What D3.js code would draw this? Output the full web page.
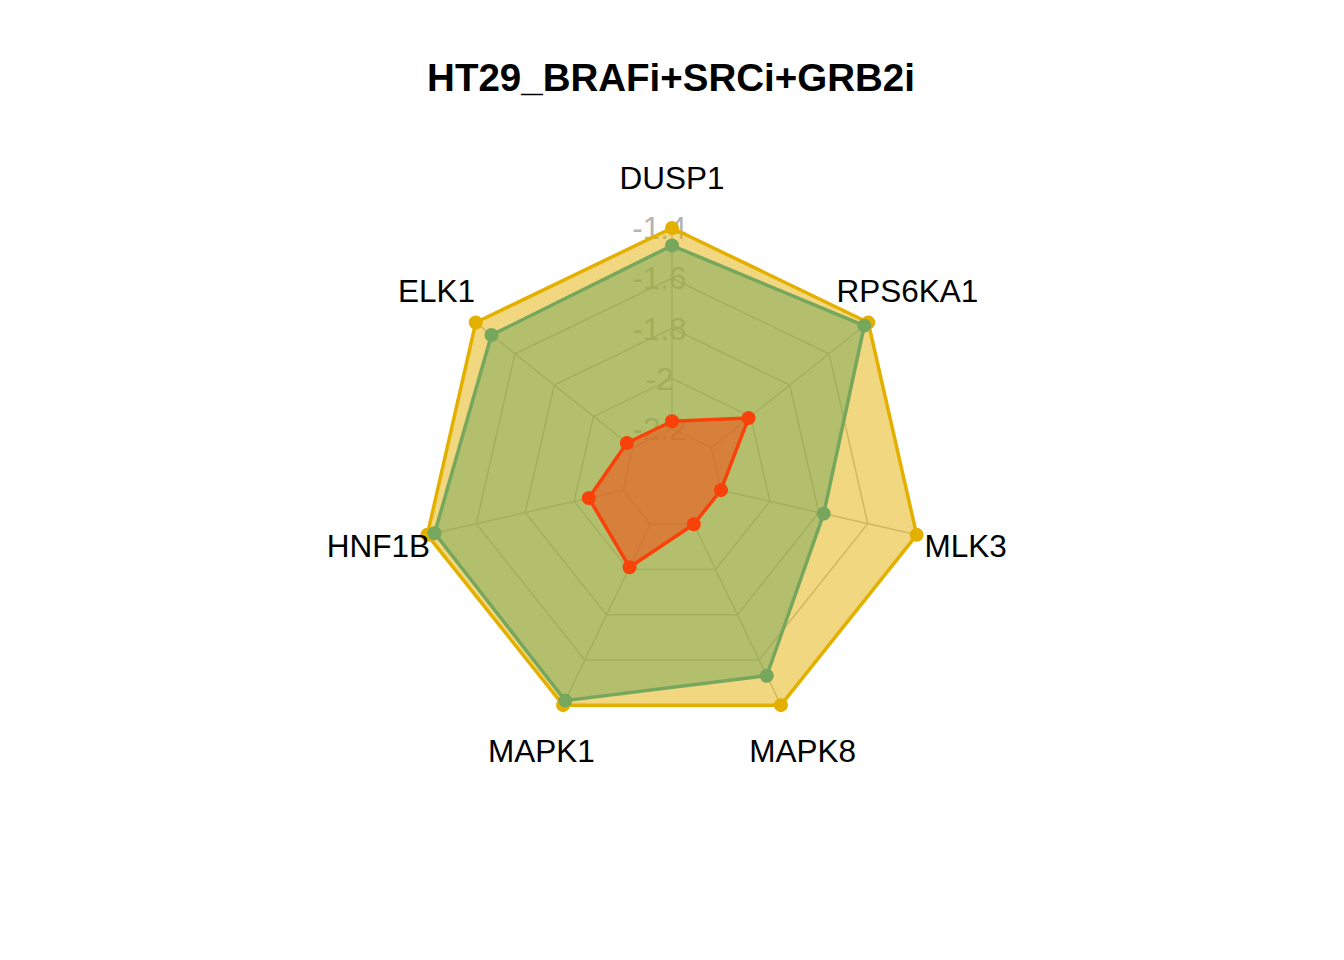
<!DOCTYPE html>
<html>
<head>
<meta charset="utf-8">
<script src="https://cdn.jsdelivr.net/npm/d3@7"></script>
<style>
  html, body { margin: 0; padding: 0; background: #ffffff; }
  svg { display: block; }
</style>
</head>
<body>
<svg id="chart" width="1344" height="960"></svg>
<script>
// ---- data ----
const chartTitle = "HT29_BRAFi+SRCi+GRB2i";
const variables = ["DUSP1", "ELK1", "HNF1B", "MAPK1", "MAPK8", "MLK3", "RPS6KA1"];
const seriesGold  = [-1.40, -1.40, -1.40, -1.40, -1.40, -1.40, -1.40];
const seriesGreen = [-1.47, -1.48, -1.43, -1.42, -1.53, -1.78, -1.42];
const seriesRed   = [-2.17, -2.17, -2.06, -2.01, -2.20, -2.20, -2.01];
const tickValues  = [-2.2, -2.0, -1.8, -1.6, -1.4];
const tickLabels  = ["-2.2", "-2", "-1.8", "-1.6", "-1.4"];
const seriesColors = ["#E4B000", "#77A75C", "#F8420A"];

// ---- layout ----
const svg = d3.select("#chart");
const cx = 672, cy = 479, R = 251;
const n = variables.length;
const seg = tickValues.length - 1;
const rScale = d3.scaleLinear()
  .domain([tickValues[0], tickValues[tickValues.length - 1]])
  .range([R / (seg + 1), R]);
const angle = d3.scaleLinear().domain([0, n]).range([Math.PI / 2, Math.PI / 2 + 2 * Math.PI]);
const px = (i, r) => cx + r * Math.cos(angle(i));
const py = (i, r) => cy - r * Math.sin(angle(i));

const font = "'Liberation Sans', Arial, Helvetica, sans-serif";
const fs = 31.5;

// title
svg.append("text")
  .attr("x", 671).attr("y", 91)
  .attr("text-anchor", "middle")
  .attr("font-family", font)
  .attr("font-weight", "bold")
  .attr("font-size", 38.5)
  .attr("fill", "#000")
  .text(chartTitle);

// grid polygons
const gridG = svg.append("g");
tickValues.forEach(v => {
  const pts = d3.range(n).map(i => [px(i, rScale(v)), py(i, rScale(v))]);
  gridG.append("polygon")
    .attr("points", pts.map(p => p.join(",")).join(" "))
    .attr("fill", "none")
    .attr("stroke", "#BEBEBE")
    .attr("stroke-width", 1.5);
});
// spokes
d3.range(n).forEach(i => {
  const r0 = rScale(tickValues[0]), r1 = rScale(tickValues[tickValues.length - 1]);
  gridG.append("line")
    .attr("x1", px(i, r0)).attr("y1", py(i, r0))
    .attr("x2", px(i, r1)).attr("y2", py(i, r1))
    .attr("stroke", "#BEBEBE")
    .attr("stroke-width", 1.5);
});

// axis value labels
tickValues.forEach((v, k) => {
  svg.append("text")
    .attr("x", cx - 0.05 * R)
    .attr("y", cy - rScale(v) + fs * 0.358)
    .attr("text-anchor", "middle")
    .attr("font-family", font)
    .attr("font-size", fs)
    .attr("fill", "#B4B4B4")
    .text(tickLabels[k]);
});

// series
const allSeries = [seriesGold, seriesGreen, seriesRed];
allSeries.forEach((vals, s) => {
  const pts = vals.map((v, i) => [px(i, rScale(v)), py(i, rScale(v))]);
  const g = svg.append("g");
  g.append("polygon")
    .attr("points", pts.map(p => p.join(",")).join(" "))
    .attr("fill", seriesColors[s])
    .attr("fill-opacity", 0.5)
    .attr("stroke", seriesColors[s])
    .attr("stroke-width", 3.5)
    .attr("stroke-linejoin", "round");
  g.selectAll("circle").data(pts).enter().append("circle")
    .attr("cx", d => d[0]).attr("cy", d => d[1])
    .attr("r", 7)
    .attr("fill", seriesColors[s]);
});

// variable labels
variables.forEach((name, i) => {
  svg.append("text")
    .attr("x", px(i, 1.2 * R))
    .attr("y", py(i, 1.2 * R) + fs * 0.358)
    .attr("text-anchor", "middle")
    .attr("font-family", font)
    .attr("font-size", fs)
    .attr("fill", "#000")
    .text(name);
});
</script>
</body>
</html>
